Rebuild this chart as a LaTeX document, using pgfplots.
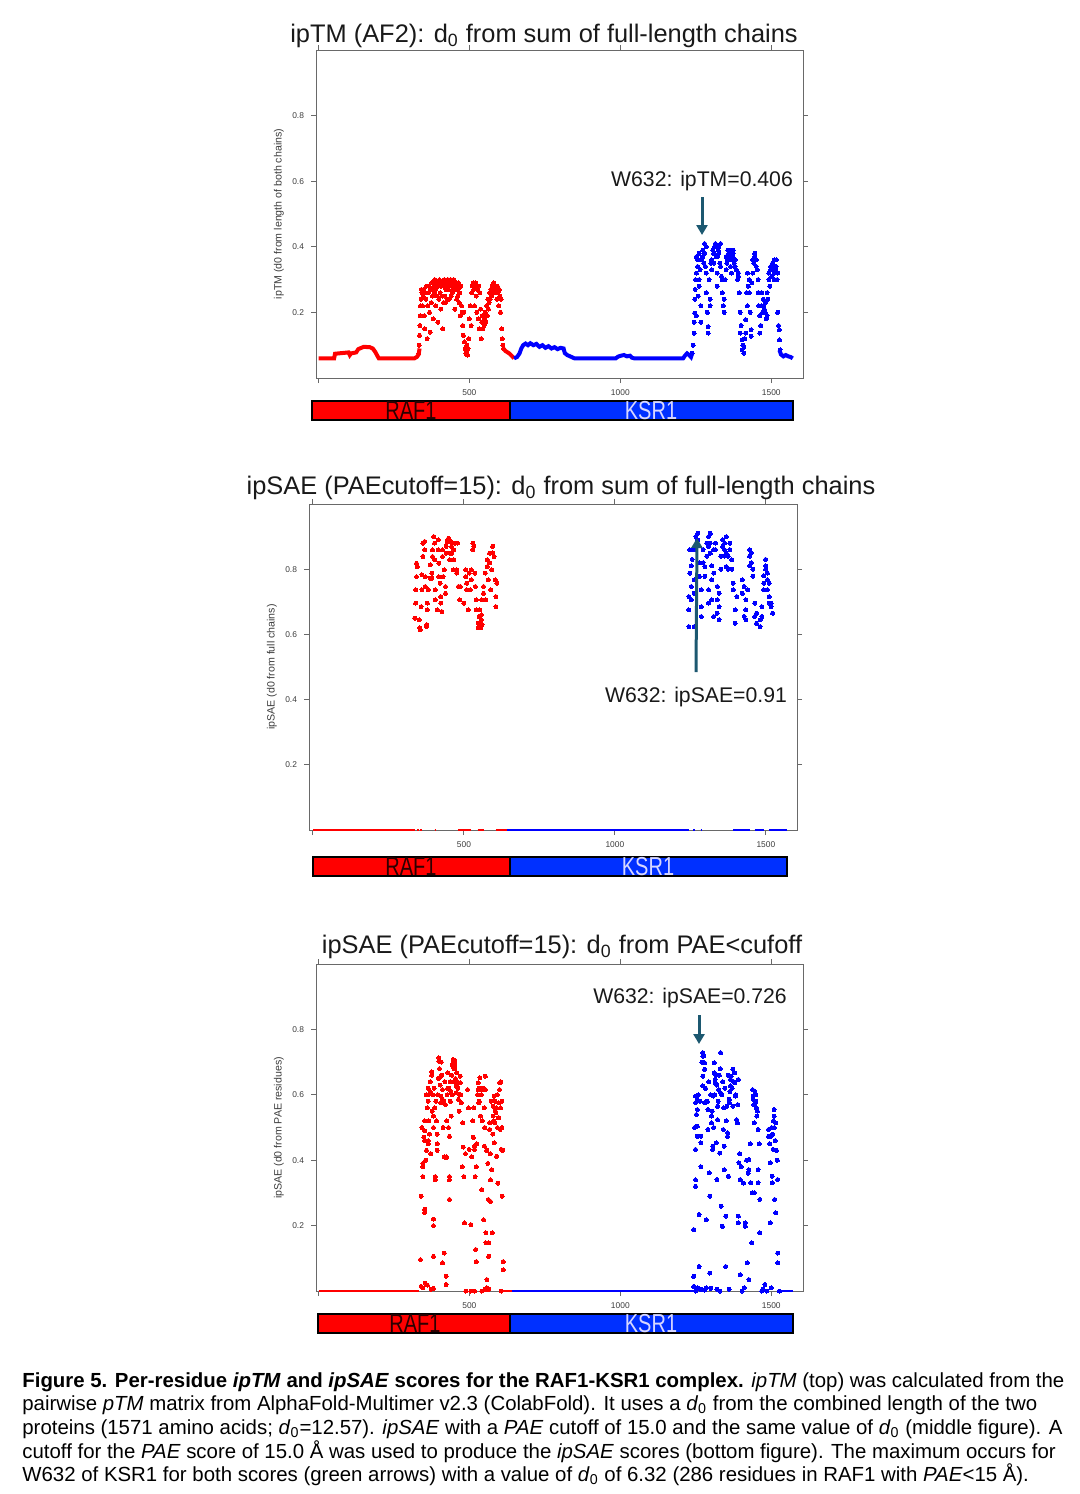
\documentclass[border=0pt]{standalone}
\usepackage{pgfplots}
\pgfplotsset{compat=1.18}
\usepackage{fontspec}
\setmainfont{Liberation Sans}
\usetikzlibrary{arrows.meta}

\definecolor{axgray}{RGB}{105,105,105}
\definecolor{tickgray}{RGB}{60,60,60}
\definecolor{titlec}{RGB}{25,25,25}
\definecolor{arrowteal}{RGB}{28,88,112}
\definecolor{pred}{RGB}{255,0,0}
\definecolor{pblue}{RGB}{0,0,255}
\definecolor{barblue}{RGB}{0,48,255}
\definecolor{ksrtext}{RGB}{215,215,255}
\definecolor{raftext}{RGB}{45,0,0}

\pgfplotsset{
  resax/.style={
    scale only axis,
    ymin=0, ymax=1,
    axis line style={axgray, line width=0.5pt},
    tick style={axgray, line width=0.5pt},
    tick align=outside, tick pos=both, major tick length=2.5pt,
    xtick={0,500,1000,1500}, xticklabels={,500,1000,1500},
    ytick={0.2,0.4,0.6,0.8}, yticklabels={0.2,0.4,0.6,0.8},
    ticklabel style={font=\fontsize{4.2}{5}\selectfont, text=tickgray},
    clip=false, unbounded coords=jump,
  },
  dots/.style={#1, only marks, mark=*, mark size=1pt,
    mark options={solid, fill=#1, draw=#1, line width=0pt}},
}

\begin{document}
\begin{tikzpicture}
\path[use as bounding box] (0pt,0pt) rectangle (540pt,-747pt);

% ---------------- top: ipTM ----------------
\begin{axis}[resax, at={(158pt,-25pt)}, anchor=north west,
  width=243.5pt, height=164pt, xmin=-8, xmax=1605]
\addplot[pred, line width=2pt] coordinates {
 (1,0.06)(52,0.06)(55,0.074)(100,0.078)(104,0.07)(108,0.075)(125,0.078)(132,0.088)
 (150,0.095)(170,0.094)(180,0.09)(188,0.08)(195,0.068)(200,0.06)(318,0.06)(326,0.064)
 (332,0.072)(335,0.09)};
\addplot[pred, line width=2pt] coordinates {
 (612,0.09)(620,0.082)(632,0.075)(642,0.066)(648,0.06)};
\addplot[dots=pred] coordinates {
 (333,0.075)(334,0.1)(335,0.13)(336,0.16)(337,0.19)(338,0.22)(340,0.24)(341,0.27)
 (343,0.26)(345,0.22)(347,0.25)(349,0.27)(351,0.19)(352,0.15)(354,0.26)(356,0.24)
 (358,0.28)(360,0.12)(362,0.22)(364,0.26)(366,0.28)(368,0.2)(370,0.14)(372,0.27)
 (374,0.23)(376,0.29)(378,0.25)(380,0.18)(382,0.28)(384,0.26)(385,0.3)(387,0.27)
 (389,0.22)(391,0.29)(393,0.28)(394,0.25)(396,0.17)(398,0.28)(399,0.24)(401,0.3)
 (403,0.26)(405,0.21)(407,0.28)(408,0.29)(410,0.25)(412,0.15)(414,0.28)(415,0.23)
 (417,0.3)(419,0.25)(421,0.23)(422,0.27)(424,0.29)(426,0.28)(427,0.24)(429,0.3)
 (431,0.27)(433,0.24)(434,0.28)(436,0.29)(438,0.3)(440,0.25)(441,0.28)(443,0.26)
 (445,0.29)(446,0.27)(448,0.3)(450,0.28)(452,0.21)(453,0.29)(455,0.27)(457,0.29)
 (458,0.24)(459,0.28)(462,0.25)(463,0.27)(464,0.29)(466,0.23)(468,0.26)(470,0.19)
 (472,0.28)(474,0.22)(476,0.2)(478,0.16)(480,0.13)(482,0.2)(484,0.11)(486,0.09)
 (488,0.075)(490,0.08)(492,0.1)(494,0.07)(496,0.09)(498,0.12)(500,0.18)(503,0.22)
 (506,0.16)(508,0.26)(510,0.28)(513,0.29)(515,0.27)(517,0.22)(519,0.28)(521,0.29)
 (523,0.25)(525,0.2)(527,0.27)(529,0.18)(531,0.28)(533,0.15)(535,0.26)(537,0.21)
 (539,0.12)(541,0.17)(543,0.19)(545,0.15)(547,0.17)(549,0.16)(551,0.18)(553,0.2)
 (555,0.17)(557,0.22)(559,0.19)(561,0.24)(563,0.21)(565,0.23)(567,0.26)(569,0.24)
 (571,0.27)(573,0.25)(575,0.28)(577,0.26)(579,0.27)(581,0.29)(583,0.28)(585,0.26)
 (587,0.28)(589,0.27)(591,0.24)(593,0.28)(595,0.26)(597,0.22)(599,0.27)(601,0.25)
 (603,0.2)(605,0.24)(607,0.15)(609,0.12)(611,0.1)(613,0.09)};
\addplot[pblue, line width=2pt] coordinates {
 (648,0.06)(658,0.064)(666,0.075)(672,0.09)(678,0.1)(686,0.105)(694,0.1)(702,0.106)
 (712,0.1)(722,0.104)(732,0.095)(742,0.1)(752,0.092)(762,0.097)(772,0.09)(782,0.094)
 (792,0.088)(802,0.092)(812,0.09)(816,0.076)(824,0.07)(836,0.065)(848,0.06)(985,0.06)
 (992,0.065)(1002,0.068)(1012,0.07)(1022,0.066)(1032,0.068)(1038,0.062)(1046,0.06)
 (1208,0.06)(1214,0.068)(1221,0.075)(1228,0.07)(1234,0.064)(1238,0.075)};
\addplot[pblue, line width=2pt] coordinates {
 (1527,0.085)(1532,0.072)(1540,0.066)(1548,0.07)(1556,0.066)(1564,0.064)(1571,0.06)};
\addplot[dots=pblue] coordinates {
 (1238,0.076)(1241,0.1)(1244,0.137)(1245,0.17)(1246,0.198)(1247,0.24)(1248,0.27)
 (1249,0.3)(1252,0.37)(1252,0.32)(1252,0.19)(1256,0.36)(1256,0.34)(1258,0.25)
 (1261,0.3)(1261,0.28)(1261,0.38)(1264,0.33)(1267,0.22)(1267,0.17)(1270,0.36)
 (1273,0.37)(1273,0.39)(1276,0.35)(1279,0.41)(1279,0.38)(1282,0.34)(1285,0.4)
 (1285,0.32)(1285,0.26)(1288,0.2)(1291,0.157)(1291,0.137)(1294,0.3)(1297,0.24)
 (1297,0.22)(1300,0.35)(1303,0.36)(1303,0.33)(1306,0.39)(1309,0.38)(1309,0.35)
 (1312,0.4)(1315,0.4)(1315,0.41)(1318,0.37)(1321,0.37)(1321,0.32)(1321,0.28)
 (1324,0.39)(1326,0.4)(1326,0.38)(1329,0.35)(1332,0.41)(1332,0.34)(1335,0.31)
 (1338,0.3)(1338,0.26)(1341,0.22)(1344,0.24)(1344,0.2)(1347,0.3)(1350,0.37)
 (1350,0.33)(1353,0.35)(1356,0.39)(1356,0.36)(1359,0.38)(1362,0.39)(1362,0.37)
 (1365,0.34)(1368,0.36)(1368,0.32)(1371,0.37)(1374,0.38)(1374,0.39)(1377,0.35)
 (1380,0.36)(1380,0.34)(1384,0.33)(1388,0.3)(1391,0.32)(1391,0.31)(1394,0.26)
 (1397,0.2)(1397,0.137)(1400,0.16)(1403,0.116)(1403,0.086)(1406,0.1)(1409,0.076)
 (1409,0.096)(1412,0.12)(1415,0.137)(1415,0.178)(1418,0.26)(1421,0.22)(1421,0.32)
 (1424,0.28)(1427,0.26)(1427,0.3)(1430,0.2)(1433,0.147)(1433,0.127)(1436,0.29)
 (1439,0.32)(1439,0.36)(1442,0.35)(1445,0.37)(1445,0.38)(1448,0.36)(1450,0.36)
 (1450,0.34)(1453,0.33)(1456,0.3)(1456,0.26)(1459,0.22)(1462,0.19)(1462,0.137)
 (1465,0.16)(1468,0.22)(1468,0.26)(1471,0.2)(1474,0.24)(1474,0.22)(1477,0.21)
 (1480,0.2)(1480,0.23)(1483,0.18)(1486,0.26)(1486,0.19)(1489,0.24)(1492,0.3)
 (1492,0.32)(1495,0.28)(1498,0.33)(1498,0.34)(1501,0.31)(1504,0.35)(1504,0.33)
 (1507,0.34)(1510,0.36)(1510,0.32)(1510,0.3)(1513,0.33)(1516,0.36)(1516,0.34)
 (1519,0.3)(1521,0.32)(1521,0.2)(1524,0.16)(1527,0.147)(1527,0.116)(1529,0.086)};
\end{axis}

% ---------------- middle: ipSAE, d0 from full chains ----------------
\begin{axis}[resax, at={(154.5pt,-252pt)}, anchor=north west,
  width=244pt, height=163pt, xmin=-13, xmax=1603]
\addplot[pred, line width=1.2pt] coordinates {
 (1,0)(339,0)(340,nan)(346,0)(350,0)(352,nan)(356,0)(360,0)(362,nan)(403,0)(407,0)
 (409,nan)(480,0)(525,0)(527,nan)(545,0)(566,0)(568,nan)(606,0)(642,0)};
\addplot[pblue, line width=1.2pt] coordinates {
 (642,0)(1245,0)(1247,nan)(1260,0)(1264,0)(1266,nan)(1284,0)(1288,0)(1290,nan)
 (1392,0)(1446,0)(1448,nan)(1463,0)(1493,0)(1495,nan)(1511,0)(1571,0)};
\addplot[dots=pred] coordinates {
 (337,0.65)(338,0.65)(340,0.737)(340,0.696)(343,0.818)(343,0.777)(346,0.808)(352,0.645)
 (354,0.62)(356,0.614)(358,0.685)(361,0.783)(361,0.737)(364,0.88)(364,0.839)(370,0.885)
 (370,0.859)(372,0.777)(372,0.747)(376,0.624)(377,0.63)(379,0.696)(379,0.675)(382,0.737)
 (388,0.813)(388,0.772)(394,0.788)(394,0.772)(396,0.859)(396,0.839)(400,0.9)(403,0.88)
 (403,0.829)(405,0.737)(405,0.706)(411,0.675)(415,0.89)(415,0.859)(417,0.818)(417,0.777)
 (421,0.757)(423,0.716)(423,0.696)(427,0.67)(429,0.859)(429,0.839)(431,0.777)(435,0.798)
 (439,0.747)(439,0.726)(441,0.87)(441,0.849)(444,0.885)(447,0.89)(449,0.895)(451,0.89)
 (453,0.849)(453,0.829)(456,0.885)(459,0.87)(459,0.849)(465,0.798)(467,0.859)(467,0.829)
 (470,0.88)(476,0.798)(476,0.788)(479,0.88)(482,0.747)(486,0.706)(488,0.747)(500,0.696)
 (506,0.798)(506,0.777)(509,0.757)(509,0.737)(514,0.675)(518,0.788)(521,0.737)(524,0.798)
 (524,0.767)(530,0.88)(530,0.859)(533,0.87)(536,0.788)(538,0.747)(541,0.706)(541,0.675)
 (547,0.634)(547,0.62)(550,0.655)(553,0.675)(553,0.63)(555,0.62)(556,0.64)(557,0.645)
 (558,0.66)(560,0.63)(559,0.706)(565,0.747)(565,0.726)(571,0.788)(573,0.706)(577,0.829)
 (577,0.808)(581,0.767)(585,0.849)(585,0.82)(589,0.737)(592,0.798)(595,0.87)(595,0.85)
 (600,0.839)(604,0.767)(606,0.716)(606,0.685)(609,0.757)};
\addplot[dots=pblue] coordinates {
 (1245,0.624)(1245,0.675)(1245,0.716)(1248,0.788)(1248,0.86)(1253,0.81)(1253,0.747)
 (1253,0.706)(1256,0.83)(1256,0.86)(1262,0.767)(1262,0.726)(1262,0.624)(1268,0.86)
 (1268,0.9)(1274,0.91)(1274,0.89)(1280,0.82)(1280,0.778)(1286,0.685)(1286,0.655)
 (1286,0.737)(1292,0.86)(1292,0.82)(1298,0.778)(1298,0.808)(1304,0.84)(1304,0.88)
 (1310,0.9)(1310,0.87)(1310,0.737)(1310,0.696)(1316,0.91)(1316,0.88)(1316,0.849)
 (1321,0.81)(1321,0.767)(1321,0.706)(1327,0.655)(1327,0.788)(1327,0.86)(1333,0.88)
 (1333,0.86)(1339,0.747)(1339,0.706)(1339,0.665)(1345,0.645)(1345,0.685)(1345,0.726)
 (1351,0.8)(1351,0.84)(1357,0.89)(1357,0.87)(1363,0.88)(1363,0.86)(1363,0.84)
 (1369,0.9)(1369,0.849)(1369,0.808)(1375,0.84)(1375,0.8)(1381,0.86)(1381,0.88)
 (1387,0.829)(1387,0.8)(1392,0.757)(1392,0.737)(1398,0.675)(1398,0.634)(1404,0.716)
 (1422,0.767)(1422,0.726)(1428,0.747)(1428,0.655)(1434,0.706)(1434,0.675)(1434,0.645)
 (1440,0.737)(1446,0.86)(1446,0.84)(1446,0.81)(1452,0.85)(1452,0.82)(1457,0.8)
 (1457,0.778)(1463,0.696)(1463,0.655)(1469,0.665)(1469,0.634)(1481,0.645)(1481,0.624)
 (1487,0.655)(1487,0.685)(1493,0.737)(1493,0.757)(1493,0.78)(1499,0.8)(1499,0.81)
 (1499,0.83)(1505,0.788)(1505,0.737)(1505,0.767)(1511,0.716)(1511,0.696)(1511,0.757)
 (1517,0.696)(1517,0.685)(1522,0.665)};
\end{axis}

% ---------------- bottom: ipSAE, d0 from PAE<cutoff ----------------
\begin{axis}[resax, at={(158pt,-482pt)}, anchor=north west,
  width=243.5pt, height=163.5pt, xmin=-8, xmax=1605]
\addplot[pred, line width=1.2pt] coordinates {
 (1,0)(334,0)(336,nan)(612,0)(641,0)};
\addplot[pblue, line width=1.2pt] coordinates {
 (641,0)(1243,0)(1245,nan)(1527,0)(1571,0)};
\addplot[dots=pred] coordinates {
 (338,0.096)(340,0.29)(346,0.39)(346,0.38)(346,0.35)(352,0.52)(352,0.49)(352,0.46)
 (352,0.25)(352,0.24)(358,0.43)(360,0.56)(364,0.46)(364,0.45)(364,0.62)(364,0.6)
 (366,0.52)(370,0.64)(370,0.61)(375,0.66)(375,0.67)(377,0.55)(381,0.535)(381,0.5)
 (381,0.2)(381,0.22)(381,0.106)(383,0.62)(387,0.35)(387,0.34)(389,0.58)(393,0.45)
 (393,0.43)(393,0.48)(395,0.6)(399,0.713)(399,0.703)(401,0.68)(405,0.657)(405,0.596)
 (405,0.575)(408,0.66)(411,0.616)(411,0.586)(411,0.086)(417,0.41)(417,0.116)(419,0.64)
 (423,0.045)(423,0.41)(423,0.407)(426,0.6)(429,0.667)(432,0.62)(434,0.473)(434,0.35)
 (434,0.34)(434,0.28)(437,0.58)(440,0.535)(441,0.66)(444,0.6)(446,0.708)(446,0.693)
 (448,0.64)(452,0.705)(452,0.69)(452,0.68)(456,0.627)(456,0.606)(458,0.667)(462,0.62)
 (464,0.586)(468,0.6)(470,0.657)(470,0.637)(473,0.575)(476,0.38)(478,0.514)(482,0.35)
 (484,0.208)(494,0.616)(499,0.433)(505,0.203)(511,0.52)(515,0.56)(517,0.443)(517,0.433)
 (521,0.127)(523,0.09)(523,0.38)(527,0.6)(529,0.637)(529,0.616)(531,0.575)(533,0.58)
 (535,0.652)(537,0.535)(541,0.616)(541,0.31)(545,0.62)(547,0.218)(549,0.56)(550,0.443)
 (553,0.616)(553,0.657)(555,0.178)(555,0.147)(558,0.035)(561,0.39)(564,0.147)(564,0.106)
 (567,0.514)(567,0.494)(570,0.34)(570,0.274)(574,0.371)(576,0.178)(579,0.565)(579,0.535)
 (582,0.596)(582,0.453)(584,0.514)(586,0.55)(588,0.545)(590,0.412)(592,0.6)(594,0.33)
 (596,0.53)(597,0.575)(600,0.637)(600,0.616)(602,0.494)(603,0.56)(606,0.433)(608,0.5)
 (609,0.29)(612,0.09)(612,0.065)
 (343,0.5)(349,0.47)(355,0.4)(357,0.6)(363,0.58)(368,0.48)(372,0.42)(379,0.6)(385,0.56)
 (391,0.52)(397,0.65)(403,0.63)(407,0.7)(413,0.5)(415,0.58)(421,0.57)(425,0.52)(428,0.62)
 (431,0.5)(436,0.64)(439,0.61)(443,0.69)(449,0.68)(454,0.65)(460,0.64)(466,0.55)(472,0.6)
 (480,0.44)(487,0.42)(497,0.56)(508,0.41)(513,0.47)(519,0.35)(525,0.45)(532,0.62)(539,0.6)
 (543,0.52)(551,0.5)(557,0.43)(563,0.28)(569,0.42)(572,0.58)(577,0.48)(581,0.52)(585,0.58)
 (589,0.56)(593,0.5)(598,0.53)(604,0.64)(607,0.58)(610,0.43)
 (340,0.014)(346,0.01)(354,0.024)(361,0.018)(373,0.005)(381,0.008)(423,0.02)(488,0)
 (505,0)(517,0)(541,0)(553,0.005)(558,0.01)(564,0.005)(606,0)};
\addplot[dots=pblue] coordinates {
 (1243,0.014)(1243,0.045)(1243,0.188)(1249,0.433)(1249,0.576)(1249,0.596)(1249,0.34)
 (1249,0.32)(1255,0.586)(1255,0.555)(1255,0.504)(1255,0.473)(1261,0.234)(1261,0.075)
 (1267,0.473)(1267,0.453)(1267,0.38)(1273,0.729)(1273,0.718)(1273,0.627)(1273,0.657)
 (1279,0.698)(1279,0.678)(1279,0.576)(1285,0.01)(1285,0.218)(1290,0.555)(1290,0.494)
 (1294,0.361)(1296,0.29)(1296,0.055)(1302,0.535)(1302,0.514)(1306,0.433)(1306,0.443)
 (1308,0.596)(1311,0.698)(1311,0.667)(1314,0.647)(1314,0.637)(1318,0.453)(1320,0.341)
 (1322,0.565)(1322,0.524)(1326,0.616)(1329,0.422)(1332,0.729)(1332,0.606)(1334,0.259)
 (1338,0.198)(1341,0.494)(1344,0.443)(1344,0.371)(1349,0.229)(1349,0.075)(1353,0.565)
 (1355,0.484)(1355,0.473)(1358,0.351)(1361,0.586)(1361,0.576)(1365,0.647)(1365,0.627)
 (1367,0.657)(1373,0.565)(1373,0.678)(1379,0.667)(1379,0.637)(1381,0.596)(1385,0.524)
 (1388,0.514)(1391,0.647)(1391,0.229)(1391,0.208)(1393,0.392)(1397,0.05)(1397,0.341)
 (1414,0.198)(1414,0.208)(1420,0.086)(1426,0.035)(1426,0.402)(1426,0.371)(1432,0.331)
 (1435,0.147)(1438,0.616)(1440,0.596)(1440,0.586)(1444,0.514)(1444,0.3)(1447,0.576)
 (1449,0.6)(1452,0.535)(1456,0.494)(1456,0.371)(1456,0.331)(1462,0.28)(1462,0.178)
 (1491,0.494)(1491,0.473)(1497,0.392)(1497,0.208)(1499,0.473)(1503,0.351)(1503,0.331)
 (1506,0.433)(1509,0.535)(1509,0.555)(1511,0.28)(1515,0.514)(1515,0.239)(1521,0.341)
 (1521,0.116)(1521,0.086)
 (1246,0.5)(1252,0.54)(1258,0.6)(1264,0.58)(1270,0.7)(1276,0.72)(1282,0.62)(1288,0.58)
 (1293,0.64)(1299,0.6)(1304,0.55)(1309,0.5)(1313,0.6)(1316,0.66)(1319,0.63)(1324,0.58)
 (1328,0.66)(1331,0.68)(1336,0.6)(1339,0.64)(1342,0.56)(1346,0.62)(1350,0.52)(1357,0.66)
 (1363,0.61)(1370,0.62)(1376,0.64)(1383,0.6)(1389,0.57)(1395,0.42)(1400,0.38)(1408,0.33)
 (1418,0.4)(1423,0.36)(1430,0.45)(1437,0.3)(1442,0.57)(1446,0.61)(1449,0.58)(1451,0.56)
 (1454,0.55)(1460,0.45)(1495,0.45)(1501,0.5)(1504,0.48)(1507,0.52)(1510,0.5)(1513,0.46)
 (1517,0.43)(1520,0.4)
 (1250,0)(1256,0.01)(1266,0.005)(1279,0.003)(1300,0.008)(1320,0.005)(1330,0)(1360,0.005)
 (1403,0)(1410,0.01)(1468,0)(1473,0.005)(1479,0.02)(1485,0)(1500,0.01)(1527,0)};
\end{axis}

% ---------------- titles, labels, chain bars, arrows, caption ----------------
\begin{scope}[x=0.5pt, y=-0.5pt]
\tikzset{ttl/.style={anchor=base, text=titlec, font=\fontsize{12.7}{14}\selectfont, inner sep=0pt},
         ylab/.style={rotate=90, text=tickgray, font=\fontsize{5.3}{6}\selectfont},
         ann/.style={anchor=base, text=titlec, font=\fontsize{10.6}{12}\selectfont, inner sep=0pt},
         arr/.style={arrowteal, line width=1.5pt, -{Triangle[length=5pt,width=5.5pt]}},
         chainlab/.style={inner sep=0pt},
         captxt/.style={anchor=base west, inner sep=0pt, font=\fontsize{10.2}{12}\selectfont}}
\node[ttl] at (544,42) {ipTM (AF2): d\textsubscript{0} from sum of full-length chains};
\node[ttl] at (561,494) {ipSAE (PAEcutoff=15): d\textsubscript{0} from sum of full-length chains};
\node[ttl] at (562,953) {ipSAE (PAEcutoff=15): d\textsubscript{0} from PAE<cufoff};

\node[ylab] at (279,214) {ipTM (d0 from length of both chains)};
\node[ylab] at (272,667) {ipSAE (d0 from full chains)};
\node[ylab] at (279,1128) {ipSAE (d0 from PAE residues)};

\node[ann] at (702,186) {W632: ipTM=0.406};
\draw[arr] (702,197) -- (702,235);
\node[ann] at (696,702) {W632: ipSAE=0.91};
\draw[arr] (696,672) -- (697,538);
\node[ann] at (690,1003) {W632: ipSAE=0.726};
\draw[arr] (699,1015) -- (699,1044);

\foreach \xa/\xm/\xb/\ya/\yb in {312/510/793/401/420, 313/510/787/857/876, 318/510/793/1314/1333}{
  \draw[black, line width=1pt, fill=pred] (\xa,\ya) rectangle (\xm,\yb);
  \draw[black, line width=1pt, fill=barblue] (\xm,\ya) rectangle (\xb,\yb);
}
\node[chainlab, text=raftext] at (411,411) {\scalebox{1}[1.3]{\fontsize{10}{10}\selectfont RAF1}};
\node[chainlab, text=ksrtext] at (651,411) {\scalebox{1}[1.3]{\fontsize{10}{10}\selectfont KSR1}};
\node[chainlab, text=raftext] at (411,867) {\scalebox{1}[1.3]{\fontsize{10}{10}\selectfont RAF1}};
\node[chainlab, text=ksrtext] at (648,867) {\scalebox{1}[1.3]{\fontsize{10}{10}\selectfont KSR1}};
\node[chainlab, text=raftext] at (415,1324) {\scalebox{1}[1.3]{\fontsize{10}{10}\selectfont RAF1}};
\node[chainlab, text=ksrtext] at (651,1324) {\scalebox{1}[1.3]{\fontsize{10}{10}\selectfont KSR1}};

\node[captxt] at (22,1387) {\textbf{Figure 5. Per-residue \textit{ipTM} and \textit{ipSAE} scores for the RAF1-KSR1 complex.} \textit{ipTM} (top) was calculated from the};
\node[captxt] at (22,1410) {pairwise \textit{pTM} matrix from AlphaFold-Multimer v2.3 (ColabFold). It uses a \textit{d}\textsubscript{0} from the combined length of the two};
\node[captxt] at (22,1434) {proteins (1571 amino acids; \textit{d}\textsubscript{0}=12.57). \textit{ipSAE} with a \textit{PAE} cutoff of 15.0 and the same value of \textit{d}\textsubscript{0} (middle figure). A};
\node[captxt] at (22,1458) {cutoff for the \textit{PAE} score of 15.0 Å was used to produce the \textit{ipSAE} scores (bottom figure). The maximum occurs for};
\node[captxt] at (22,1481) {W632 of KSR1 for both scores (green arrows) with a value of \textit{d}\textsubscript{0} of 6.32 (286 residues in RAF1 with \textit{PAE}<15 Å).};
\end{scope}
\end{tikzpicture}
\end{document}
